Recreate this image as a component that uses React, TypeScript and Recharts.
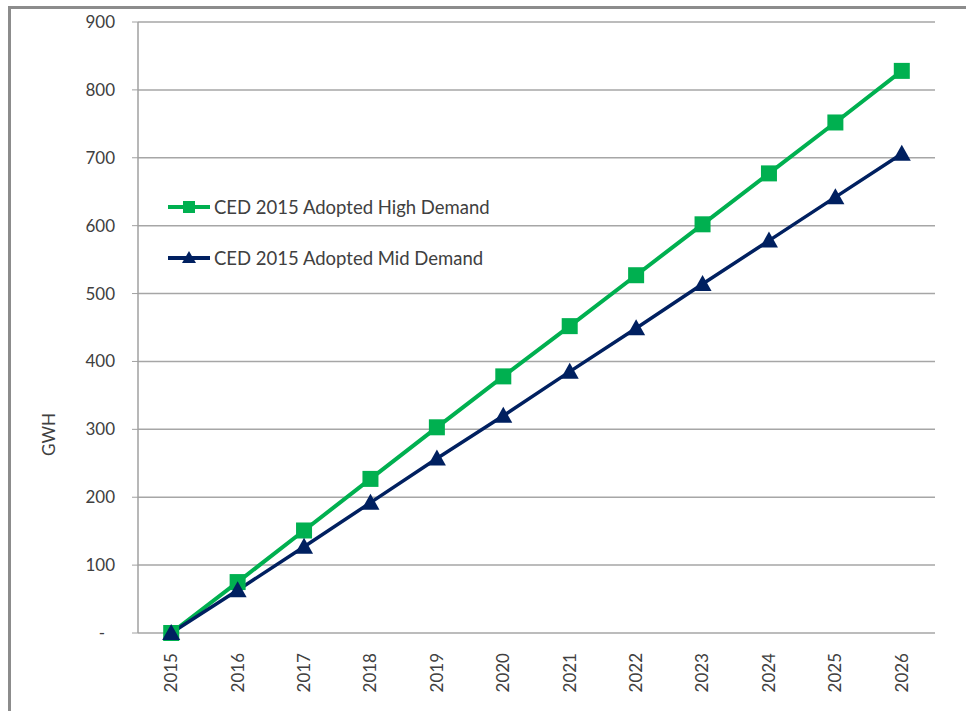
import React from "react"
import { LineChart, Line, XAxis, YAxis, CartesianGrid, Legend } from "recharts"

const years = [2015, 2016, 2017, 2018, 2019, 2020, 2021, 2022, 2023, 2024, 2025, 2026]
const highDemand = [0, 75, 151, 227, 303, 378, 452, 527, 602, 677, 752, 828]
const midDemand = [0, 63, 127, 192, 257, 320, 385, 449, 514, 578, 642, 706]
const yTicks = [0, 100, 200, 300, 400, 500, 600, 700, 800, 900]
const seriesNames = ["CED 2015 Adopted High Demand", "CED 2015 Adopted Mid Demand"]

const GREEN = "#00b050"
const NAVY = "#002060"
const FONT = "Lato, 'Liberation Sans', sans-serif"
const TEXT = "#404040"

const data = years.map((year, i) => ({ year, high: highDemand[i], mid: midDemand[i] }))
const separators = [...years.map((y) => y - 0.5), years[years.length - 1] + 0.5]

const SquareDot = (props: any) => {
  const { cx, cy } = props
  if (cx == null || cy == null) return null
  return <rect x={cx - 8} y={cy - 8} width={16} height={16} fill={GREEN} />
}

const TriangleDot = (props: any) => {
  const { cx, cy } = props
  if (cx == null || cy == null) return null
  return <path d={`M${cx},${cy - 9} L${cx + 9},${cy + 7} L${cx - 9},${cy + 7} Z`} fill={NAVY} />
}

const YearTick = (props: any) => {
  const { x, y, payload } = props
  return (
    <text
      x={x}
      y={y + 12}
      transform={`rotate(-90, ${x}, ${y + 12})`}
      textAnchor="end"
      dy="0.35em"
      fontSize={17}
      fontFamily={FONT}
      fill={TEXT}
    >
      {payload.value}
    </text>
  )
}

const ValueTick = (props: any) => {
  const { x, y, payload } = props
  const zero = payload.value === 0
  return (
    <text x={zero ? x - 10 : x} y={y} dy="0.35em" textAnchor="end" fontSize={17} fontFamily={FONT} fill={TEXT}>
      {zero ? "-" : payload.value}
    </text>
  )
}

const LegendBox = () => (
  <div style={{ fontFamily: FONT, fontSize: 18.5, color: TEXT }}>
    {seriesNames.map((name, i) => (
      <div key={name} style={{ display: "flex", alignItems: "center", height: 51 }}>
        <svg width={46} height={20}>
          <line x1={2} y1={10} x2={44} y2={10} stroke={i === 0 ? GREEN : NAVY} strokeWidth={4} />
          {i === 0 ? (
            <rect x={17} y={4} width={12} height={12} fill={GREEN} />
          ) : (
            <path d="M23,3 L30,15 L16,15 Z" fill={NAVY} />
          )}
        </svg>
        <span style={{ marginLeft: 2, whiteSpace: "nowrap" }}>{name}</span>
      </div>
    ))}
  </div>
)

export default function App() {
  return (
    <div style={{ position: "absolute", left: 0, top: 0, width: 966, height: 711, background: "#fff", overflow: "hidden" }}>
      <div
        style={{
          position: "absolute",
          left: 8,
          top: 6,
          width: 970,
          height: 720,
          borderTop: "3px solid #8c8c8c",
          borderLeft: "3px solid #8c8c8c",
          boxSizing: "border-box",
        }}
      />
      <div style={{ position: "absolute", left: 0, top: 0 }}>
        <LineChart width={966} height={711} data={data} margin={{ top: 22, right: 31, bottom: 0, left: 0 }}>
          <CartesianGrid vertical={false} stroke="#a6a6a6" strokeWidth={1.5} />
          <XAxis
            xAxisId="sep"
            type="number"
            dataKey="year"
            domain={[2014.5, 2026.5]}
            ticks={separators}
            tick={false}
            height={0}
            stroke="#a0a0a0"
            tickSize={7}
            axisLine={{ stroke: "#a0a0a0", strokeWidth: 1.5 }}
          />
          <XAxis
            type="number"
            dataKey="year"
            domain={[2014.5, 2026.5]}
            ticks={years}
            tick={<YearTick />}
            tickLine={false}
            axisLine={false}
            height={78}
            interval={0}
          />
          <YAxis
            domain={[0, 900]}
            ticks={yTicks}
            width={138}
            tick={<ValueTick />}
            tickSize={6}
            tickMargin={17}
            stroke="#a0a0a0"
            axisLine={{ stroke: "#a0a0a0", strokeWidth: 1.5 }}
            label={{
              content: (p: any) => {
                const vb = p.viewBox
                const cx = vb.x + 49
                const cy = vb.y + vb.height / 2 + 107
                return (
                  <text
                    x={cx}
                    y={cy}
                    transform={`rotate(-90, ${cx}, ${cy})`}
                    textAnchor="middle"
                    dy="0.35em"
                    fontSize={17}
                    fontFamily={FONT}
                    fill={TEXT}
                  >
                    GWH
                  </text>
                )
              },
            }}
          />
          <Legend
            layout="horizontal"
            align="center"
            verticalAlign="middle"
            content={<LegendBox />}
            wrapperStyle={{ left: 166, top: 181, width: 360 }}
          />
          <Line
            dataKey="high"
            name={seriesNames[0]}
            stroke={GREEN}
            strokeWidth={4}
            dot={<SquareDot />}
            activeDot={false}
            isAnimationActive={false}
          />
          <Line
            dataKey="mid"
            name={seriesNames[1]}
            stroke={NAVY}
            strokeWidth={3.5}
            dot={<TriangleDot />}
            activeDot={false}
            isAnimationActive={false}
          />
        </LineChart>
      </div>
    </div>
  )
}
